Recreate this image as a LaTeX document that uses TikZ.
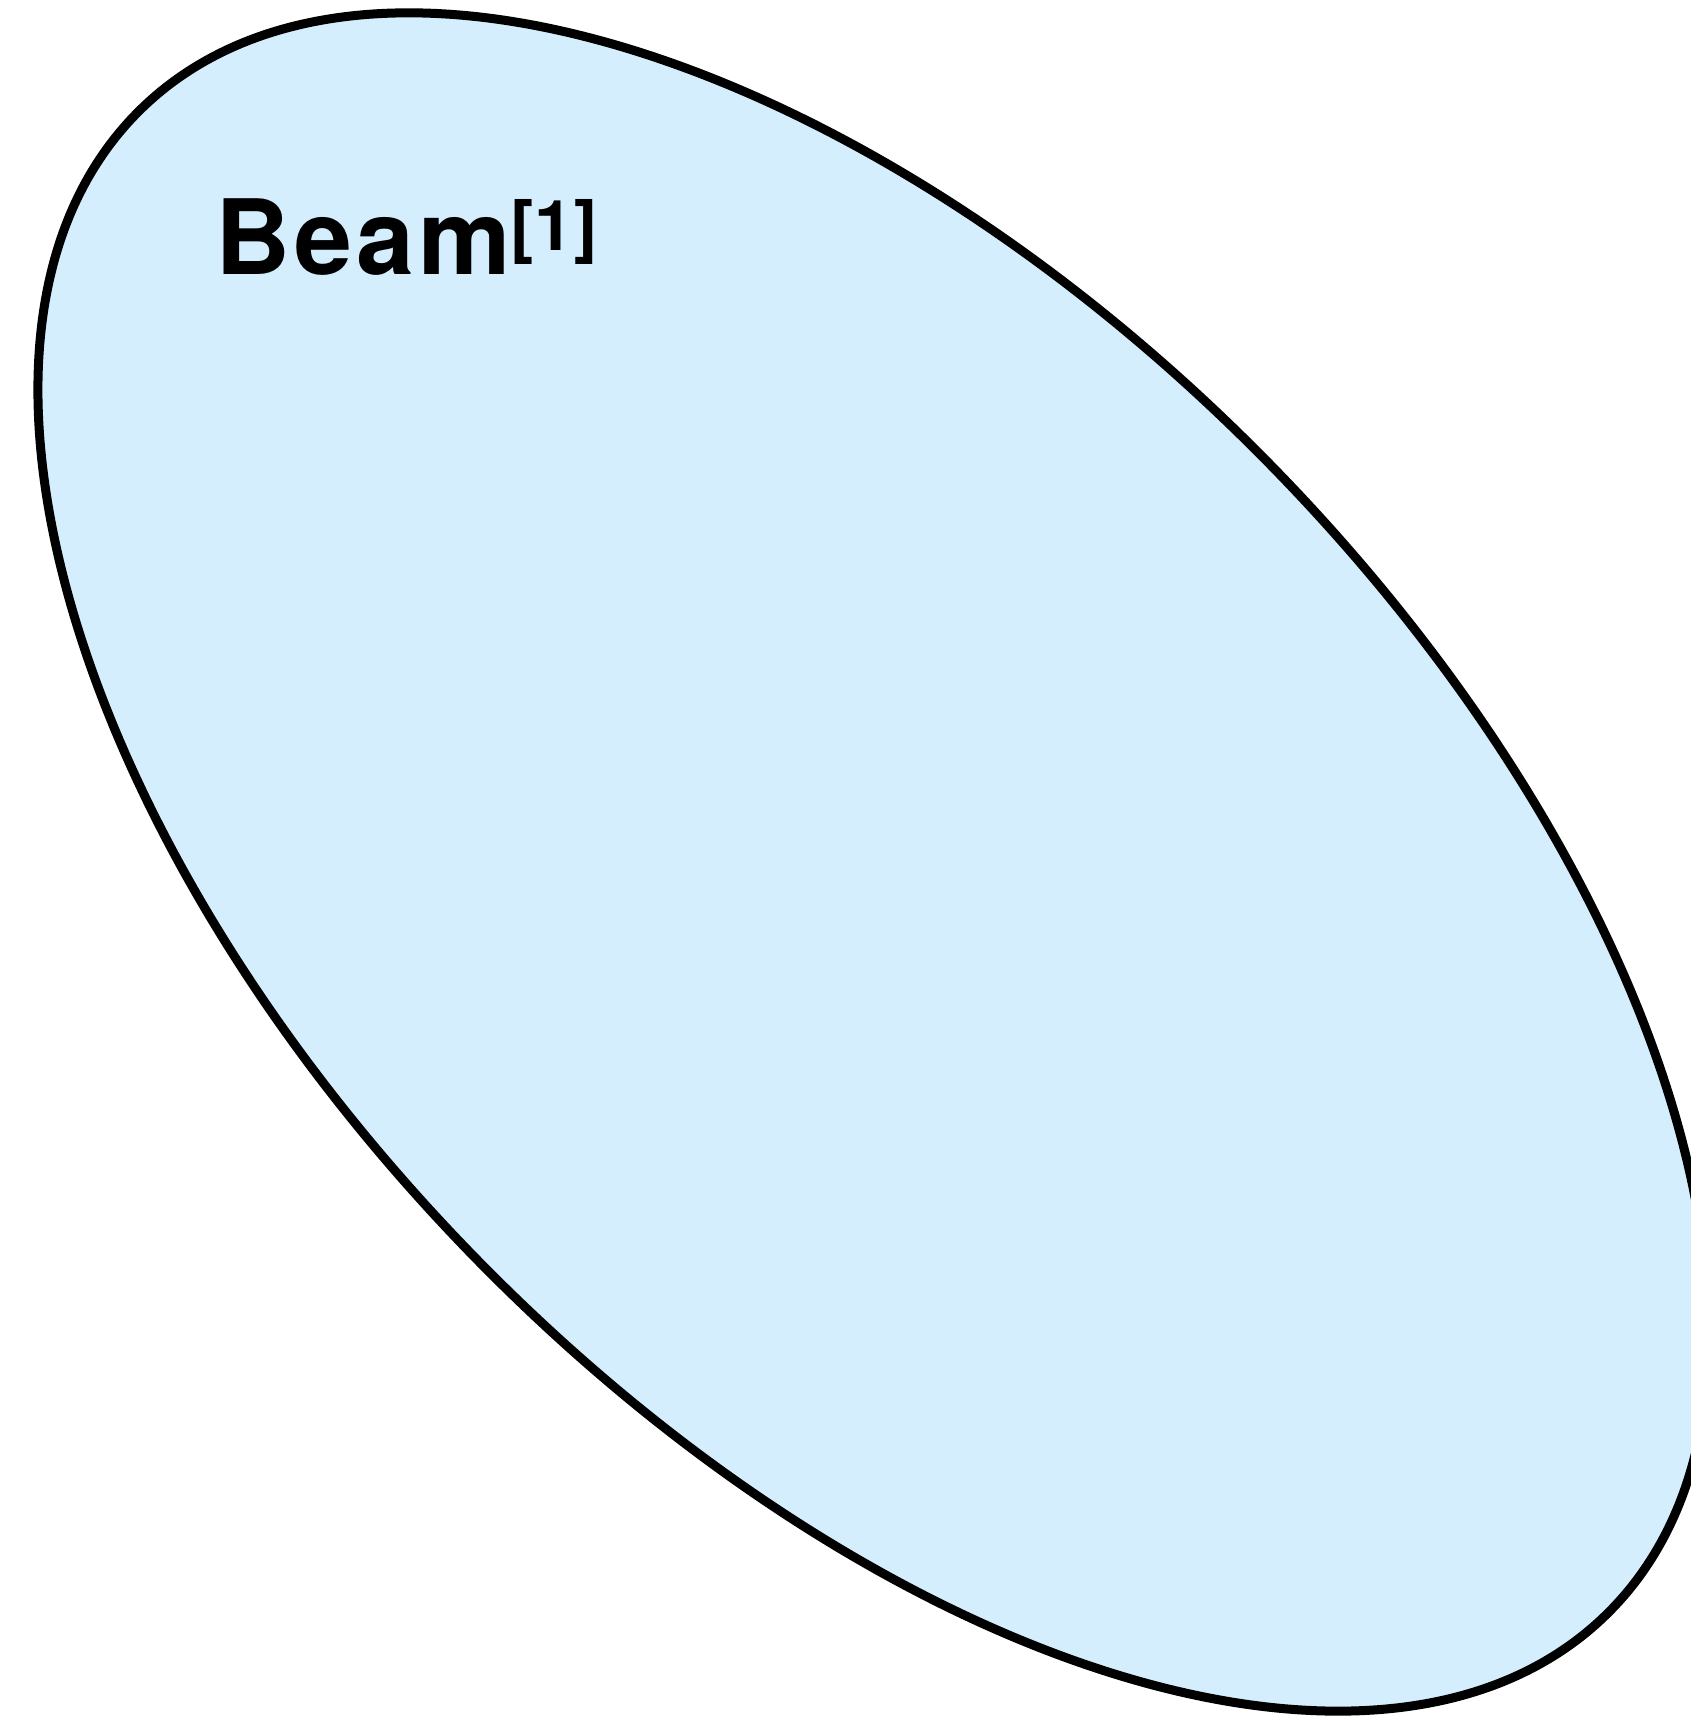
\documentclass[tikz,border=0pt]{standalone}
\usepackage{fontspec}
\setmainfont{TeX Gyre Heros}
\definecolor{beamblue}{RGB}{212,238,253}
\begin{document}
\begin{tikzpicture}[x=1pt, y=1pt,
  beamset/.style={fill=beamblue, draw=black, line width=9pt},
  label/.style={inner sep=0pt, font=\bfseries\fontsize{104}{104}\selectfont\addfontfeature{LetterSpace=4}}]
  \useasboundingbox (0,0) rectangle (1691,1717);
  \clip (0,0) rectangle (1691,1717);
  \draw[beamset, rotate around={-45.83:(873.5,855)}] (873.5,855) ellipse (1050.5 and 561.5);
  \node[label, anchor=base west] (beam) at (215,1442)
    {Beam\raisebox{24pt}{\fontsize{70}{70}\selectfont\addfontfeature{LetterSpace=1}[1]}};
\end{tikzpicture}
\end{document}
